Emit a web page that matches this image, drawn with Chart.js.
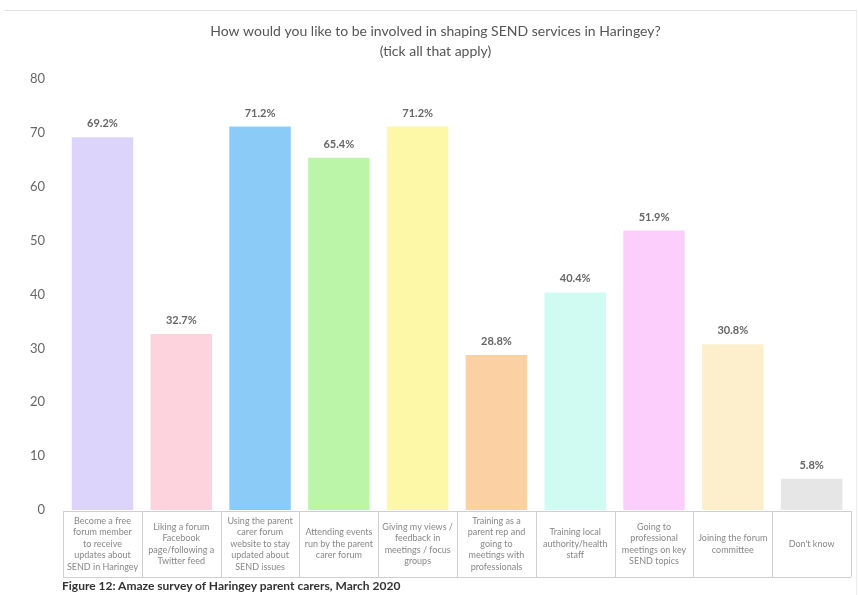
<!DOCTYPE html>
<html>
<head>
<meta charset="utf-8">
<script src="https://cdn.jsdelivr.net/npm/chart.js@4/dist/chart.umd.min.js"></script>
<style>
  body { margin: 0; background: #fff; }
  #wrap { position: relative; width: 859px; height: 595px; }
  #frame { position: absolute; left: 5px; top: 10px; width: 852px; height: 600px;
           border-top: 1px solid #ddd; border-right: 1px solid #eee; box-sizing: border-box; }
  #caption { position: absolute; left: 62px; top: 578px; font: bold 12px Lato, "Open Sans", sans-serif;
             color: #333; white-space: nowrap; }
</style>
</head>
<body>
<div id="wrap">
  <div id="frame"></div>
  <canvas id="surveyChart" width="859" height="595"></canvas>
  <div id="caption">Figure 12: Amaze survey of Haringey parent carers, March 2020</div>
</div>
<script>
// 回答の選択肢（複数行ラベル）
const categories = [
  ['Become a free', 'forum member', 'to receive', 'updates about', 'SEND in Haringey'],
  ['Liking a forum', 'Facebook', 'page/following a', 'Twitter feed'],
  ['Using the parent', 'carer forum', 'website to stay', 'updated about', 'SEND issues'],
  ['Attending events', 'run by the parent', 'carer forum'],
  ['Giving my views /', 'feedback in', 'meetings / focus', 'groups'],
  ['Training as a', 'parent rep and', 'going to', 'meetings with', 'professionals'],
  ['Training local', 'authority/health', 'staff'],
  ['Going to', 'professional', 'meetings on key', 'SEND topics'],
  ['Joining the forum', 'committee'],
  ["Don't know"]
];
// 割合（%）
const percentages = [69.2, 32.7, 71.2, 65.4, 71.2, 28.8, 40.4, 51.9, 30.8, 5.8];
const valueLabels = ['69.2%', '32.7%', '71.2%', '65.4%', '71.2%', '28.8%', '40.4%', '51.9%', '30.8%', '5.8%'];
const barColors = ['#dcd4fb', '#fdd4de', '#8acbf8', '#bbf6a8', '#fdf8a8', '#fbd0a2', '#d0fbf3', '#fbcefb', '#fdefcb', '#e6e6e6'];
const yTicks = [0, 10, 20, 30, 40, 50, 60, 70, 80];

const FONT = 'Lato, "Open Sans", sans-serif';
const BOX_HEIGHT = 66;

// バーの上に値ラベルを描く
const valueLabelPlugin = {
  id: 'valueLabels',
  afterDatasetsDraw(chart) {
    const ctx = chart.ctx;
    const meta = chart.getDatasetMeta(0);
    ctx.save();
    ctx.font = 'bold 11px ' + FONT;
    ctx.fillStyle = '#666';
    ctx.textAlign = 'center';
    ctx.textBaseline = 'bottom';
    meta.data.forEach((bar, i) => {
      ctx.fillText(valueLabels[i], bar.x, bar.y - 8);
    });
    ctx.restore();
  }
};

// x軸ラベルを表形式の枠に入れて描く（縦方向は中央揃え）
const labelBoxPlugin = {
  id: 'labelBoxes',
  afterDraw(chart) {
    const ctx = chart.ctx;
    const x = chart.scales.x;
    const top = chart.chartArea.bottom + 1;
    const bottom = top + BOX_HEIGHT;
    const half = (x.getPixelForValue(1) - x.getPixelForValue(0)) / 2;
    const left = x.getPixelForValue(0) - half;
    const right = x.getPixelForValue(categories.length - 1) + half;
    ctx.save();
    ctx.strokeStyle = '#cfcfcf';
    ctx.lineWidth = 1;
    ctx.beginPath();
    ctx.moveTo(left, top + 0.5); ctx.lineTo(right, top + 0.5);
    ctx.moveTo(left, bottom + 0.5); ctx.lineTo(right, bottom + 0.5);
    for (let i = 0; i <= categories.length; i++) {
      const px = Math.round(x.getPixelForValue(i) - half) + 0.5;
      ctx.moveTo(px, top); ctx.lineTo(px, bottom);
    }
    ctx.stroke();

    ctx.font = '9px ' + FONT;
    ctx.fillStyle = '#888';
    ctx.textAlign = 'center';
    ctx.textBaseline = 'middle';
    const lineH = 11.5;
    categories.forEach((lines, i) => {
      const cx = x.getPixelForValue(i);
      const y0 = (top + bottom) / 2 - (lines.length - 1) * lineH / 2;
      lines.forEach((t, j) => ctx.fillText(t, cx, y0 + j * lineH));
    });
    ctx.restore();
  }
};

const ctx = document.getElementById('surveyChart').getContext('2d');
const surveyChart = new Chart(ctx, {
  type: 'bar',
  data: {
    labels: categories,
    datasets: [{
      data: percentages,
      backgroundColor: barColors,
      borderWidth: 0,
      barPercentage: 0.78,
      categoryPercentage: 1
    }]
  },
  options: {
    responsive: false,
    animation: false,
    layout: { padding: { top: 22, left: 20, right: 8, bottom: 77 } },
    plugins: {
      legend: { display: false },
      tooltip: { enabled: false },
      title: {
        display: true,
        text: ['How would you like to be involved in shaping SEND services in Haringey?', '(tick all that apply)'],
        color: '#555',
        font: { family: FONT, size: 14, weight: 'normal', lineHeight: 1.4 },
        padding: { top: 0, bottom: 18 }
      }
    },
    scales: {
      x: {
        grid: { display: false },
        border: { display: false },
        ticks: { display: false }
      },
      y: {
        min: 0,
        max: 80,
        afterBuildTicks: axis => { axis.ticks = yTicks.map(v => ({ value: v })); },
        grid: { display: false },
        border: { display: false },
        ticks: {
          color: '#666',
          font: { family: FONT, size: 13 },
          padding: 10
        }
      }
    }
  },
  plugins: [valueLabelPlugin, labelBoxPlugin]
});
</script>
</body>
</html>
